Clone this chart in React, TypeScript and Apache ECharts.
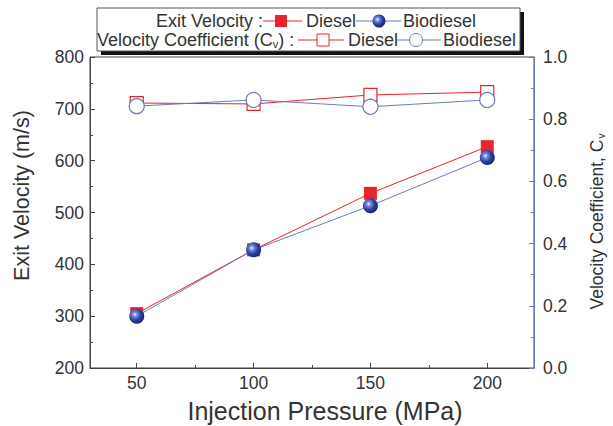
import React, { useEffect, useRef } from "react";
import * as echarts from "echarts";

// Injection pressure (MPa)
const pressures = [50, 100, 150, 200];
// Exit velocity (m/s)
const exitVelocityDiesel = [305, 428, 537, 627];
const exitVelocityBiodiesel = [300, 428, 513, 606];
// Velocity coefficient Cv
const cvDiesel = [0.852, 0.849, 0.878, 0.887];
const cvBiodiesel = [0.842, 0.862, 0.84, 0.862];

const xMajorTicks = [50, 100, 150, 200];
const xMinorTicks = [75, 125, 175];

const RED = "#e8242c";
const BLUE_LINE = "#6a7bb8";
const AXIS = "#444";
const TEXT = "#333";
const FONT = "'Liberation Sans', Arial, sans-serif";

const sphere = {
  type: "radial",
  x: 0.38,
  y: 0.38,
  r: 0.65,
  colorStops: [
    { offset: 0, color: "#ffffff" },
    { offset: 0.2, color: "#7e93e0" },
    { offset: 0.6, color: "#2c40a6" },
    { offset: 1, color: "#16236e" },
  ],
};

const pairs = (vals: number[]) => pressures.map((p, i) => [p, vals[i]]);

export default function App() {
  const ref = useRef<HTMLDivElement>(null);

  useEffect(() => {
    if (!ref.current) return;
    const chart = echarts.init(ref.current, null, { renderer: "svg" });

    const legendRow1 = 21;
    const legendRow2 = 40;
    const LEGEND_FS = 18;
    const legendText = { fontSize: LEGEND_FS, fontFamily: FONT, fill: TEXT, verticalAlign: "middle" };
    const TICK_FS = 17.5;

    chart.setOption({
      animation: false,
      backgroundColor: "#ffffff",
      grid: {
        left: 90,
        right: 79,
        top: 57,
        bottom: 58,
        outerBoundsMode: "none",
        containLabel: false,
        show: true,
        borderColor: AXIS,
        borderWidth: 1,
        backgroundColor: "transparent",
      },
      xAxis: [
        {
          type: "value",
          min: 30,
          max: 220,
          name: "Injection Pressure (MPa)",
          nameLocation: "middle",
          nameGap: 30,
          nameTextStyle: { fontSize: 25, fontFamily: FONT, color: TEXT, padding: [0, 0, 0, 26] },
          axisLine: { show: true, lineStyle: { color: AXIS } },
          axisTick: { show: true, inside: true, length: 5, customValues: xMajorTicks, lineStyle: { color: AXIS } },
          axisLabel: { customValues: xMajorTicks, fontSize: TICK_FS, fontFamily: FONT, color: TEXT, margin: 6 },
          splitLine: { show: false },
        },
        {
          type: "value",
          min: 30,
          max: 220,
          position: "bottom",
          axisLine: { show: false },
          axisTick: { show: true, inside: true, length: 3, customValues: xMinorTicks, lineStyle: { color: AXIS } },
          axisLabel: { show: false },
          splitLine: { show: false },
        },
      ],
      yAxis: [
        {
          type: "value",
          min: 200,
          max: 800,
          interval: 100,
          position: "left",
          name: "Exit Velocity (m/s)",
          nameLocation: "middle",
          nameRotate: 90,
          nameGap: 57,
          nameTextStyle: { fontSize: 21.5, fontFamily: FONT, color: TEXT, padding: [0, 0, 0, 34] },
          axisLine: { show: true, lineStyle: { color: AXIS } },
          axisTick: { show: true, inside: true, length: 5, lineStyle: { color: AXIS } },
          minorTick: { show: true, splitNumber: 2, length: 3, lineStyle: { color: AXIS } },
          axisLabel: { fontSize: TICK_FS, fontFamily: FONT, color: TEXT, margin: 6 },
          splitLine: { show: false },
        },
        {
          type: "value",
          min: 0,
          max: 1,
          interval: 0.2,
          position: "right",
          name: "{a|Velocity Coefficient, C}{s|v}",
          nameLocation: "middle",
          nameRotate: 90,
          nameGap: 53,
          nameTextStyle: {
            fontSize: 17.5,
            fontFamily: FONT,
            color: TEXT,
            padding: [0, 18, 0, 0],
            rich: {
              a: { fontSize: 17.5, fontFamily: FONT, color: TEXT },
              s: { fontSize: 10, fontFamily: FONT, color: TEXT, verticalAlign: "bottom", padding: [9, 0, 0, 1] },
            },
          },
          axisLine: { show: true, lineStyle: { color: BLUE_LINE } },
          axisTick: { show: true, inside: true, length: 5, lineStyle: { color: BLUE_LINE } },
          minorTick: { show: true, splitNumber: 2, length: 3, lineStyle: { color: BLUE_LINE } },
          axisLabel: {
            fontSize: TICK_FS,
            fontFamily: FONT,
            color: TEXT,
            margin: 9,
            formatter: (v: number) => v.toFixed(1),
          },
          splitLine: { show: false },
        },
      ],
      series: [
        {
          name: "Cv Diesel",
          type: "line",
          yAxisIndex: 1,
          data: pairs(cvDiesel),
          symbol: "rect",
          symbolSize: 13,
          lineStyle: { color: RED, width: 1 },
          itemStyle: { color: "#ffffff", borderColor: RED, borderWidth: 1.2 },
          z: 2,
        },
        {
          name: "Cv Biodiesel",
          type: "line",
          yAxisIndex: 1,
          data: pairs(cvBiodiesel),
          symbol: "circle",
          symbolSize: 15,
          lineStyle: { color: BLUE_LINE, width: 1 },
          itemStyle: { color: "#ffffff", borderColor: BLUE_LINE, borderWidth: 1.2 },
          z: 3,
        },
        {
          name: "Exit Velocity Diesel",
          type: "line",
          yAxisIndex: 0,
          data: pairs(exitVelocityDiesel),
          symbol: "rect",
          symbolSize: 13,
          lineStyle: { color: RED, width: 1 },
          itemStyle: { color: RED, borderColor: RED, borderWidth: 0 },
          z: 4,
        },
        {
          name: "Exit Velocity Biodiesel",
          type: "line",
          yAxisIndex: 0,
          data: pairs(exitVelocityBiodiesel),
          symbol: "circle",
          symbolSize: 15,
          lineStyle: { color: BLUE_LINE, width: 1 },
          itemStyle: { color: sphere, borderWidth: 0 },
          z: 5,
        },
      ],
      graphic: [
        // legend box with dark drop shadow
        { type: "rect", shape: { x: 101, y: 12, width: 423, height: 43 }, style: { fill: "#111" }, z: 100 },
        { type: "rect", shape: { x: 97, y: 8, width: 423, height: 43 }, style: { fill: "#fff", stroke: "#555", lineWidth: 1 }, z: 101 },

        // row 1: exit velocity
        { type: "text", x: 263, y: legendRow1, style: { ...legendText, text: "Exit Velocity :", align: "right" }, z: 102 },
        { type: "line", shape: { x1: 263, y1: legendRow1, x2: 302, y2: legendRow1 }, style: { stroke: RED, lineWidth: 1 }, z: 102 },
        { type: "rect", shape: { x: 275, y: legendRow1 - 6, width: 12, height: 12 }, style: { fill: RED }, z: 103 },
        { type: "text", x: 306, y: legendRow1, style: { ...legendText, text: "Diesel" }, z: 102 },
        { type: "line", shape: { x1: 356, y1: legendRow1, x2: 401, y2: legendRow1 }, style: { stroke: BLUE_LINE, lineWidth: 1 }, z: 102 },
        { type: "circle", shape: { cx: 379, cy: legendRow1, r: 6.5 }, style: { fill: sphere }, z: 103 },
        { type: "text", x: 403, y: legendRow1, style: { ...legendText, text: "Biodiesel" }, z: 102 },

        // row 2: velocity coefficient
        {
          type: "text",
          x: 97,
          y: legendRow2,
          style: {
            text: "{a|Velocity Coefficient (C}{s|v}{a|) :}",
            verticalAlign: "middle",
            rich: {
              a: { fontSize: LEGEND_FS, fontFamily: FONT, fill: TEXT },
              s: { fontSize: 11, fontFamily: FONT, fill: TEXT, verticalAlign: "bottom", padding: [7, 0, 0, 0] },
            },
          },
          z: 102,
        },
        { type: "line", shape: { x1: 298, y1: legendRow2, x2: 344, y2: legendRow2 }, style: { stroke: RED, lineWidth: 1 }, z: 102 },
        { type: "rect", shape: { x: 317, y: legendRow2 - 6, width: 12, height: 12 }, style: { fill: "#fff", stroke: RED, lineWidth: 1 }, z: 103 },
        { type: "text", x: 348, y: legendRow2, style: { ...legendText, text: "Diesel" }, z: 102 },
        { type: "line", shape: { x1: 397, y1: legendRow2, x2: 441, y2: legendRow2 }, style: { stroke: BLUE_LINE, lineWidth: 1 }, z: 102 },
        { type: "circle", shape: { cx: 416, cy: legendRow2, r: 6.5 }, style: { fill: "#fff", stroke: BLUE_LINE, lineWidth: 1 }, z: 103 },
        { type: "text", x: 443, y: legendRow2, style: { ...legendText, text: "Biodiesel" }, z: 102 },
      ],
    });

    return () => chart.dispose();
  }, []);

  return (
    <div
      ref={ref}
      style={{ position: "absolute", left: 0, top: 0, width: 613, height: 426, background: "#fff" }}
    />
  );
}
